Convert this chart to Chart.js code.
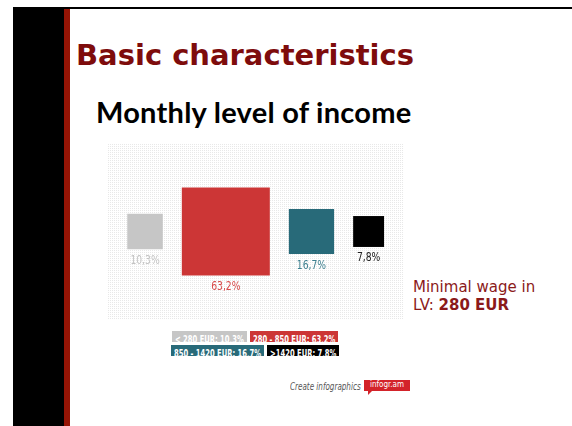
<!DOCTYPE html>
<html>
<head>
<meta charset="utf-8">
<script src="https://cdn.jsdelivr.net/npm/chart.js@4"></script>
<style>
  body { margin: 0; width: 572px; height: 426px; position: relative; overflow: hidden; background: #fff; font-family: Lato, sans-serif; }
  #topline { position: absolute; left: 13px; top: 7px; width: 559px; height: 2px; background: #000; }
  #blackbar { position: absolute; left: 13px; top: 7px; width: 51px; height: 419px; background: #000; }
  #redbar { position: absolute; left: 64px; top: 9px; width: 6px; height: 417px; background: #951405; }
  #title { position: absolute; left: 76px; top: 38px; font: bold 29px "DejaVu Sans"; color: #7e0c0c; white-space: nowrap; }
  #subtitle { position: absolute; left: 96px; top: 94px; font: bold 29px Lato; letter-spacing: 0.25px; color: #000; white-space: nowrap; }
  #plot { position: absolute; left: 107px; top: 143px; width: 296px; height: 177px;
          background-color: #e8e8e8;
          background-image: linear-gradient(to right, #fff 1px, transparent 1px), linear-gradient(to bottom, #fff 1px, transparent 1px);
          background-size: 2px 2px; }
  #legend { position: absolute; left: 155px; top: 331px; width: 200px; display: flex; flex-wrap: wrap; justify-content: center; gap: 3px 3px; }
  .chip { height: 11px; line-height: 11px; padding: 0 3px; overflow: hidden; color: #fff; white-space: nowrap; }
  .chip span { display: inline-block; font: bold 10.5px "DejaVu Sans Condensed", sans-serif; transform: scaleX(0.72); transform-origin: 0 0; }
  #note { position: absolute; left: 413px; top: 278px; font: 15px "DejaVu Sans", sans-serif; color: #8b1a1a; line-height: 18px; }
  #note b { font-weight: bold; }
  #credit { position: absolute; left: 290px; top: 381px; font: italic 10px "DejaVu Sans Condensed", sans-serif; color: #555; white-space: nowrap; transform: scaleX(0.8); transform-origin: 0 0; }
  #tag { position: absolute; left: 364px; top: 380px; width: 46px; height: 11px; line-height: 11px; text-align: center; background: #d3232a; color: #fff; font: 8px "DejaVu Sans Condensed", sans-serif; }
  #tag:after { content: ""; position: absolute; left: 4px; top: 11px; border-left: 4px solid #d3232a; border-bottom: 4px solid transparent; }
</style>
</head>
<body>
<div id="topline"></div>
<div id="blackbar"></div>
<div id="redbar"></div>
<div id="title">Basic characteristics</div>
<div id="subtitle">Monthly level of income</div>
<div id="plot"><canvas id="squares" width="296" height="177"></canvas></div>
<div id="legend"></div>
<div id="note">Minimal wage in<br>LV: <b>280 EUR</b></div>
<div id="credit">Create infographics</div>
<div id="tag">infogr.am</div>
<script>
const categories = ['< 280 EUR', '280 - 850 EUR', '850 - 1420 EUR', '>1420 EUR'];
const shares = [10.3, 63.2, 16.7, 7.8];
const shareLabels = ['10,3%', '63,2%', '16,7%', '7,8%'];
const colors = ['#c6c6c6', '#cc3636', '#286a79', '#000000'];
const labelColors = ['#c4c4c4', '#d84a4a', '#3d8090', '#222222'];

// square side grows with sqrt of the share (area ~ value)
const sides = shares.map(v => Math.sqrt(v));
const gap = 1.72, start = 1.83;
let cursor = start;
const points = sides.map(s => {
    const p = { x: cursor + s / 2, y: 0 };
    cursor += s + gap;
    return p;
});

// rect point style: side = radius * sqrt(2)
function sideRadius(ctx) {
    const x = ctx.chart.scales.x;
    const r = (x.getPixelForValue(sides[ctx.dataIndex]) - x.getPixelForValue(0)) / Math.SQRT2;
    return Number.isFinite(r) ? r : 0;
}

const valueLabels = {
    id: 'valueLabels',
    afterDatasetsDraw(chart) {
        const ctx = chart.ctx;
        const meta = chart.getDatasetMeta(0);
        ctx.save();
        ctx.font = '12.5px "DejaVu Sans Condensed", sans-serif';
        ctx.textAlign = 'center';
        ctx.textBaseline = 'top';
        meta.data.forEach((pt, i) => {
            const half = pt.options.radius * Math.SQRT1_2;
            ctx.save();
            ctx.translate(pt.x, pt.y + half + 5);
            ctx.scale(0.82, 1);
            ctx.fillStyle = labelColors[i];
            ctx.fillText(shareLabels[i], 0, 0);
            ctx.restore();
        });
        ctx.restore();
    }
};

new Chart(document.getElementById('squares'), {
    type: 'scatter',
    data: {
        labels: categories,
        datasets: [{
            data: points,
            pointBackgroundColor: colors,
            pointBorderWidth: 0,
            pointStyle: 'rect',
            pointRadius: sideRadius,
            showLine: false,
            clip: false
        }]
    },
    options: {
        responsive: false,
        animation: false,
        events: [],
        layout: { padding: 0, autoPadding: false },
        plugins: { legend: { display: false }, tooltip: { enabled: false } },
        scales: {
            x: { type: 'linear', min: 0, max: 26.74, display: false },
            y: { type: 'linear', min: -8, max: 8, display: false }
        }
    },
    plugins: [valueLabels]
});

// legend chips
const legend = document.getElementById('legend');
categories.forEach((c, i) => {
    const chip = document.createElement('div');
    chip.className = 'chip';
    chip.style.background = colors[i];
    const span = document.createElement('span');
    span.textContent = c + ': ' + shareLabels[i];
    chip.appendChild(span);
    legend.appendChild(chip);
    chip.style.width = span.getBoundingClientRect().width + 'px';
});
</script>
</body>
</html>
